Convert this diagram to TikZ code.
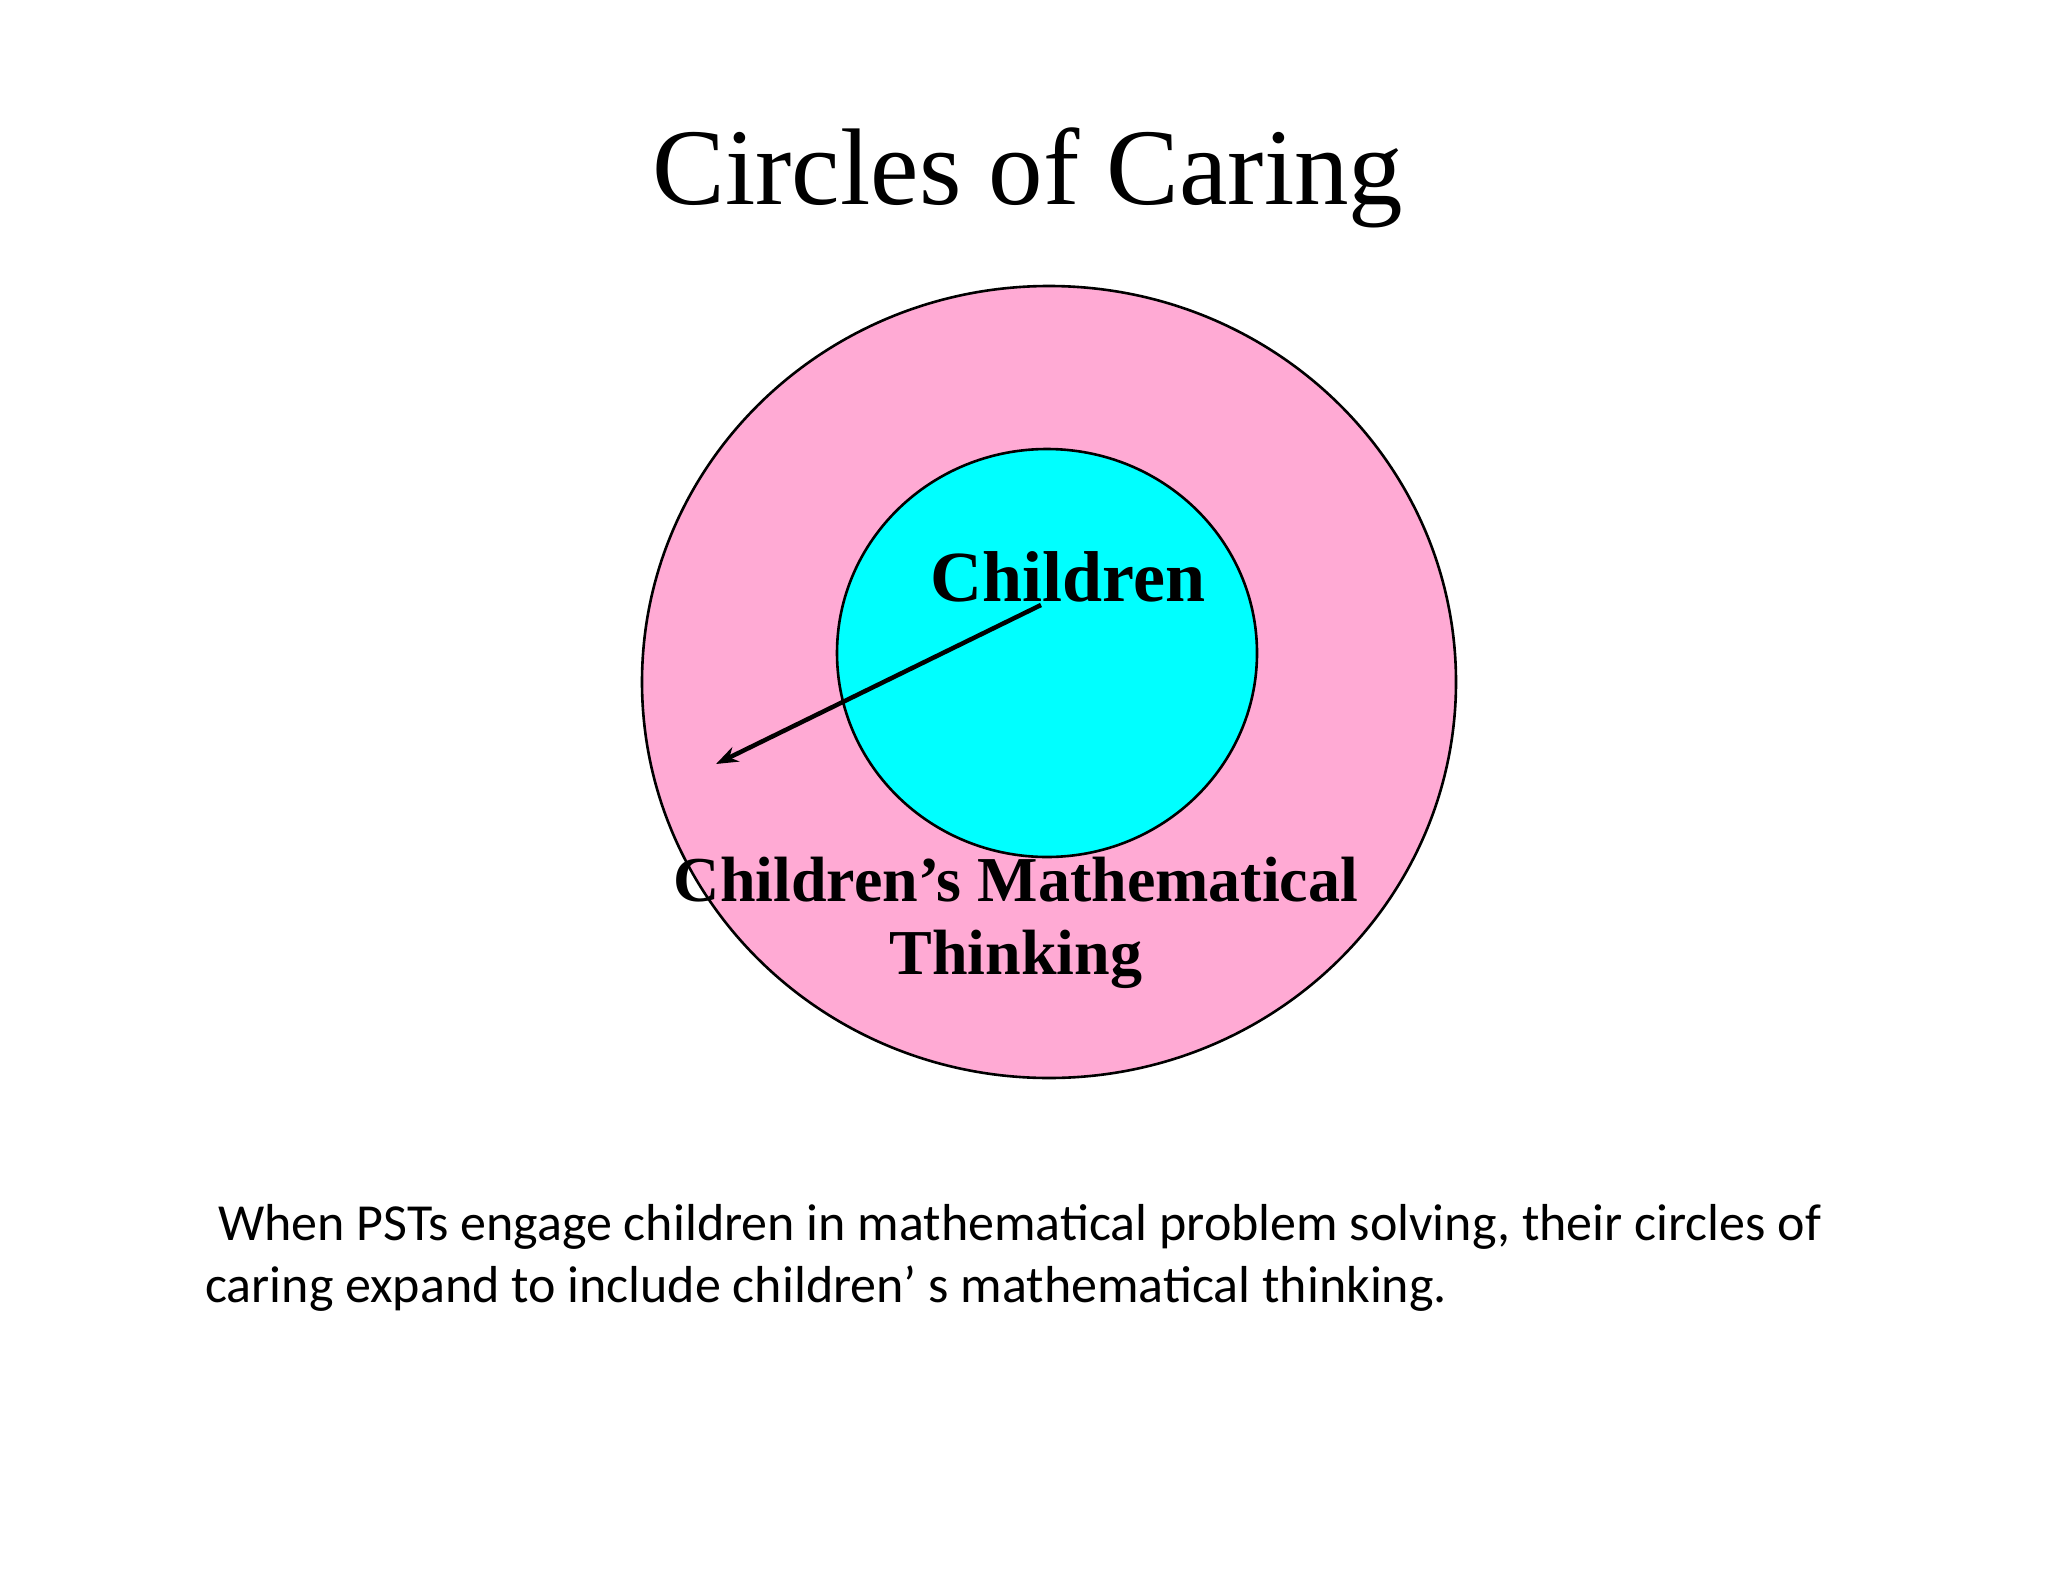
\documentclass[tikz,border=0pt]{standalone}
\usepackage{fontspec}
\setmainfont{Liberation Serif}
\newfontfamily\calib{Carlito}
\usetikzlibrary{arrows.meta}
\begin{document}
\begin{tikzpicture}[x=1pt,y=-1pt,
  lbl/.style={font=\fontsize{64}{73}\selectfont\bfseries,align=center,inner sep=0}]
\useasboundingbox[fill=white] (0,0) rectangle (2048,1582);
\node[font=\fontsize{109}{120}\selectfont,inner sep=0] (title) at (1028,178) {Circles of Caring};
\draw[line width=2.6pt,fill={rgb,255:red,255;green,170;blue,212}] (1049,682) ellipse [x radius=407,y radius=396];
\draw[line width=2.6pt,fill={rgb,255:red,0;green,255;blue,255}] (1047,653) ellipse [x radius=210,y radius=204];
\node[lbl,font=\fontsize{72}{80}\selectfont\bfseries] (ch) at (1068,577) {Children};
\coordinate (a1) at (1041,605);
\coordinate (a2) at (716,764);
\draw[line width=4.5pt,-{Stealth[length=22pt,width=16pt]}] (a1) -- (a2);
\node[lbl] (cmt) at (1016,923) {Children{\char39}s Mathematical\\Thinking};
\node[font=\calib\fontsize{52}{62}\selectfont,align=left,anchor=north west,inner sep=0] (txt) at (205,1204)
 {\hspace{13pt}When PSTs engage children in mathematical problem solving, their circles of\\caring expand to include children’ s mathematical thinking.};
\end{tikzpicture}
\end{document}
